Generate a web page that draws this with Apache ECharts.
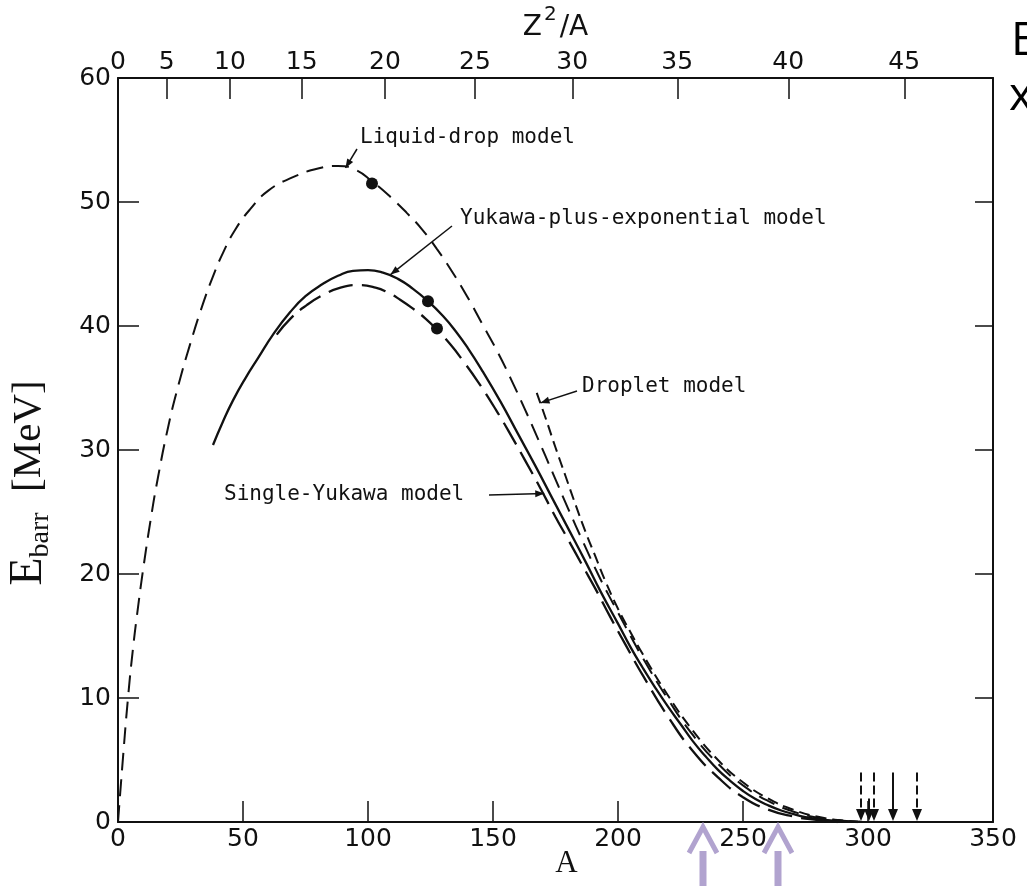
<!DOCTYPE html>
<html>
<head>
<meta charset="utf-8">
<script src="https://cdn.jsdelivr.net/npm/echarts@6/dist/echarts.min.js"></script>
<style>
  html, body { margin: 0; padding: 0; background: #ffffff; }
  #chart { width: 1027px; height: 886px; }
</style>
</head>
<body>
<div id="chart"></div>
<script>
// Fission barrier height E_barr [MeV] versus mass number A, four nuclear models.
const liquidDrop = [
  [0, 0], [2, 5.2], [4, 10], [6, 14], [8, 17.3], [10, 20.3], [13, 24.3], [16, 27.8],
  [20, 31.8], [24, 35.1], [28.8, 38.5], [34, 41.8], [38, 44], [42, 45.9], [47, 47.8],
  [52.8, 49.4], [60, 50.9], [70, 52.0], [80, 52.7], [88, 52.9], [95, 52.6], [102, 51.6],
  [109, 50.4], [115.6, 49.1], [121.6, 47.8], [127.6, 46.2], [133.6, 44.4], [139.6, 42.4],
  [145.6, 40.2], [151.6, 38.0], [157, 35.8], [162.5, 33.4], [168, 30.9], [174, 28.1],
  [180, 25.3], [186, 22.6], [191.5, 20.2], [196, 18.4], [200, 16.9], [205, 15.0],
  [210, 13.2], [220, 9.9], [230, 7.0], [240, 4.7], [250, 2.95], [260, 1.7], [270, 0.85],
  [280, 0.35], [290, 0.1], [298, 0]
];
const yukawaPlusExp = [
  [38, 30.4], [42, 32.3], [46, 34.0], [51, 35.8], [56, 37.4], [62, 39.3], [68.8, 41.1],
  [75, 42.4], [82, 43.4], [88, 44.05], [94, 44.45], [100, 44.5], [106, 44.3], [112, 43.8],
  [118, 43.0], [124, 42.0], [130, 40.8], [135, 39.6], [140, 38.2], [146, 36.3], [153, 33.9],
  [160, 31.3], [167, 28.7], [174, 26.0], [180, 23.7], [187, 21.0], [193, 18.6], [200, 16.0],
  [205, 14.1], [210, 12.4], [215, 10.8], [220, 9.3], [225, 7.9], [230, 6.5], [235, 5.3],
  [240, 4.2], [245, 3.3], [250, 2.5], [255, 1.85], [260, 1.35], [265, 0.95], [270, 0.65],
  [275, 0.4], [280, 0.24], [285, 0.12], [290, 0.05], [296, 0]
];
const singleYukawa = [
  [63.5, 39.3], [69, 40.6], [75.6, 41.7], [82, 42.5], [89, 43.1], [96, 43.3], [103, 43.1],
  [108, 42.7], [113, 42.1], [118, 41.4], [123, 40.6], [127.6, 39.7], [133, 38.5],
  [138, 37.2], [144, 35.5], [151.6, 33.1], [158, 30.9], [163, 29.1], [169, 26.9],
  [175, 24.6], [180, 22.8], [186, 20.6], [191, 18.8], [197, 16.5], [203, 14.3], [210, 11.8],
  [220, 8.5], [230, 5.7], [240, 3.6], [250, 2.0], [260, 1.0], [270, 0.45], [280, 0.15], [288, 0]
];
const dropletModel = [
  [167.5, 34.6], [171, 32.6], [175, 30.2], [179, 27.9], [183, 25.6], [187, 23.4], [191, 21.4],
  [195, 19.4], [200, 17.2], [205, 15.3], [210, 13.5], [220, 10.2], [230, 7.35], [240, 5.0],
  [250, 3.2], [260, 1.9], [270, 1.0], [280, 0.42], [290, 0.12], [300, 0]
];

// Measured points marked on three of the curves
const liquidDropDot = [[101.6, 51.5]];
const yukawaPlusExpDot = [[124, 42.0]];
const singleYukawaDot = [[127.6, 39.8]];

// Axis ranges
const aMin = 0, aMax = 350, aStep = 50;
const eMin = 0, eMax = 60, eStep = 10;

// Upper scale: Z^2/A values and the mass numbers where they fall
const z2aLabels = [0, 5, 10, 15, 20, 25, 30, 35, 40, 45];
const z2aAtA = [0, 19.5, 44.8, 73.5, 106.8, 142.8, 181.7, 223.7, 268.1, 314.5];

// Mass numbers where the barriers vanish (arrows on the A axis)
const vanishA = [297.2, 300.4, 302.4, 310, 319.6];
const vanishFrom = [4.0, 1.9, 4.0, 4.0, 4.0];
const vanishDashed = [true, false, true, false, true];

// Highlighted mass numbers below the A axis
const highlightA = [234, 264];

const INK = '#111111';
const tickFont = 'DejaVu Sans';
const noteFont = '"DejaVu Sans Mono"';

function z2aLabel(v) {
  let best = 0, bd = Infinity;
  z2aAtA.forEach((a, i) => { const d = Math.abs(a - v); if (d < bd) { bd = d; best = i; } });
  return String(z2aLabels[best]);
}

const axisLine = { show: true, onZero: false, lineStyle: { color: INK, width: 2 } };

const chart = echarts.init(document.getElementById('chart'), null, { renderer: 'canvas' });

const option = {
  backgroundColor: '#ffffff',
  animation: false,
  grid: { left: 118, right: 34, top: 78, bottom: 64, containLabel: false, outerBoundsMode: 'none' },
  xAxis: [
    {
      type: 'value', position: 'bottom', min: aMin, max: aMax, interval: aStep,
      axisLine: axisLine,
      axisTick: { show: true, inside: true, length: 21, lineStyle: { color: INK, width: 1.5 } },
      axisLabel: { color: INK, fontFamily: tickFont, fontSize: 25, margin: 5 },
      splitLine: { show: false },
      name: 'A', nameLocation: 'middle', nameGap: 26, nameMoveOverlap: false,
      nameTextStyle: { color: INK, fontFamily: '"Liberation Serif"', fontSize: 31, padding: [0, 0, 0, 22] }
    },
    {
      type: 'value', position: 'top', min: aMin, max: aMax,
      axisLine: axisLine,
      axisTick: { show: true, inside: true, length: 21, customValues: z2aAtA, lineStyle: { color: INK, width: 1.5 } },
      axisLabel: { color: INK, fontFamily: tickFont, fontSize: 25, margin: 3, customValues: z2aAtA, formatter: z2aLabel },
      splitLine: { show: false },
      name: '{z|Z}{s|2}{z|/A}', nameLocation: 'middle', nameGap: 27, nameMoveOverlap: false,
      nameTextStyle: {
        color: INK,
        rich: {
          z: { fontFamily: tickFont, fontSize: 28, color: INK, lineHeight: 46 },
          s: { fontFamily: tickFont, fontSize: 20, color: INK, verticalAlign: 'top', lineHeight: 24, padding: [0, 3, 0, 2] }
        }
      }
    }
  ],
  yAxis: [
    {
      type: 'value', position: 'left', min: eMin, max: eMax, interval: eStep,
      axisLine: axisLine,
      axisTick: { show: true, inside: true, length: 21, lineStyle: { color: INK, width: 1.5 } },
      axisLabel: { color: INK, fontFamily: tickFont, fontSize: 25, margin: 7 },
      splitLine: { show: false }
    },
    {
      type: 'value', position: 'right', min: eMin, max: eMax, interval: eStep,
      axisLine: axisLine,
      axisTick: { show: true, inside: true, length: 18, lineStyle: { color: INK, width: 1.5 } },
      axisLabel: { show: false },
      splitLine: { show: false }
    }
  ],
  series: [
    {
      name: 'Liquid-drop model', type: 'line', data: liquidDrop, smooth: 0.5, showSymbol: false,
      lineStyle: { color: INK, width: 2, type: [17, 9] }, z: 3
    },
    {
      name: 'Yukawa-plus-exponential model', type: 'line', data: yukawaPlusExp, smooth: 0.5, showSymbol: false,
      lineStyle: { color: INK, width: 2.3, type: 'solid' }, z: 3
    },
    {
      name: 'Single-Yukawa model', type: 'line', data: singleYukawa, smooth: 0.5, showSymbol: false,
      lineStyle: { color: INK, width: 2.3, type: [25, 9] }, z: 3
    },
    {
      name: 'Droplet model', type: 'line', data: dropletModel, smooth: 0.5, showSymbol: false,
      lineStyle: { color: INK, width: 2, type: [11, 6] }, z: 3
    },
    { type: 'scatter', data: liquidDropDot, symbolSize: 12, itemStyle: { color: INK, opacity: 1 }, z: 4 },
    { type: 'scatter', data: yukawaPlusExpDot, symbolSize: 12, itemStyle: { color: INK, opacity: 1 }, z: 4 },
    { type: 'scatter', data: singleYukawaDot, symbolSize: 12, itemStyle: { color: INK, opacity: 1 }, z: 4 }
  ]
};

chart.setOption(option);

function px(a, e) { return chart.convertToPixel({ xAxisIndex: 0, yAxisIndex: 0 }, [a, e]); }

function arrowHead(tip, from, len, half) {
  const dx = tip[0] - from[0], dy = tip[1] - from[1];
  const d = Math.hypot(dx, dy) || 1;
  const ux = dx / d, uy = dy / d;
  const bx = tip[0] - ux * len, by = tip[1] - uy * len;
  return [[tip[0], tip[1]], [bx - uy * half, by + ux * half], [bx + uy * half, by - ux * half]];
}

const graphics = [];

// Curve labels with leader lines
const notes = [
  { text: 'Liquid-drop model', x: 360, y: 138, from: [357, 149], to: [91, 52.75] },
  { text: 'Yukawa-plus-exponential model', x: 460, y: 219, from: [452, 226], to: [109, 44.15] },
  { text: 'Droplet model', x: 582, y: 387, from: [577, 391], to: [169, 33.8] },
  { text: 'Single-Yukawa model', x: 224, y: 495, from: [489, 495], to: [170.5, 26.5] }
];
notes.forEach(n => {
  graphics.push({
    type: 'text', x: n.x, y: n.y, z: 10,
    style: { text: n.text, font: '21px ' + noteFont, fill: INK, align: 'left', verticalAlign: 'middle' }
  });
  const tip = px(n.to[0], n.to[1]);
  graphics.push({
    type: 'line', z: 10,
    shape: { x1: n.from[0], y1: n.from[1], x2: tip[0], y2: tip[1] },
    style: { stroke: INK, lineWidth: 1.5 }
  });
  graphics.push({
    type: 'polygon', z: 10,
    shape: { points: arrowHead(tip, n.from, 9, 3.5) },
    style: { fill: INK }
  });
});

// Arrows marking where each barrier vanishes
vanishA.forEach((a, i) => {
  const top = px(a, vanishFrom[i]);
  const base = px(a, 0);
  const headLen = 13;
  graphics.push({
    type: 'line', z: 10,
    shape: { x1: top[0], y1: top[1], x2: base[0], y2: base[1] - headLen + 2 },
    style: { stroke: INK, lineWidth: 2, lineDash: vanishDashed[i] ? [9, 4] : null }
  });
  graphics.push({
    type: 'polygon', z: 10,
    shape: { points: [[base[0], base[1] - 1], [base[0] - 5, base[1] - headLen], [base[0] + 5, base[1] - headLen]] },
    style: { fill: INK }
  });
});

// Highlight arrows under the A axis
highlightA.forEach(a => {
  const p = px(a, 0);
  const x = p[0];
  graphics.push({
    type: 'polyline', z: 10,
    shape: { points: [[x - 14, 853], [x, 827], [x + 14, 853]] },
    style: { stroke: '#b1a3cf', lineWidth: 5, fill: null }
  });
  graphics.push({
    type: 'rect', z: 10,
    shape: { x: x - 3.5, y: 851, width: 7, height: 40 },
    style: { fill: '#b1a3cf' }
  });
});

// Vertical axis title with subscript
graphics.push({
  type: 'text', x: 29, y: 483, rotation: Math.PI / 2, z: 10,
  style: {
    text: '{e|E}{s|barr}{m|  [MeV]}',
    align: 'center', verticalAlign: 'middle',
    rich: {
      e: { fontFamily: '"Liberation Serif"', fontSize: 46, fill: INK, lineHeight: 52 },
      s: { fontFamily: '"Liberation Serif"', fontSize: 28, fill: INK, verticalAlign: 'bottom', lineHeight: 32 },
      m: { fontFamily: '"Liberation Serif"', fontSize: 41, fill: INK, lineHeight: 52 }
    }
  }
});

// Heading text continuing past the right edge
graphics.push({
  type: 'text', x: 1011, y: 42, z: 10,
  style: { text: 'E', font: '46px "Open Sans"', fill: '#000', align: 'left', verticalAlign: 'middle' }
});
graphics.push({
  type: 'text', x: 1009, y: 97, z: 10,
  style: { text: 'x', font: '46px "Open Sans"', fill: '#000', align: 'left', verticalAlign: 'middle' }
});

chart.setOption({ graphic: graphics });
</script>
</body>
</html>
